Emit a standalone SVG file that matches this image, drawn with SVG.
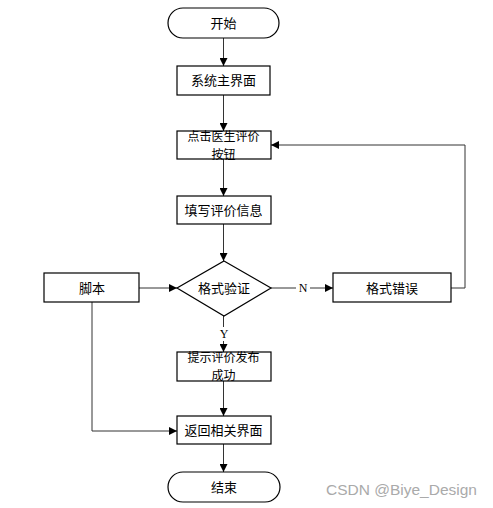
<svg xmlns="http://www.w3.org/2000/svg" width="493" height="508" viewBox="0 0 493 508">
<style>
.n{fill:#fff;stroke:#000;stroke-width:1.2}
.t{font-family:"Noto Sans CJK SC","Liberation Sans",sans-serif;font-size:13px;fill:#000;text-anchor:middle}
.s{font-size:12px}
.l{font-family:"Liberation Serif",serif;font-size:12px;fill:#000;text-anchor:middle}
.c{fill:none;stroke:#333;stroke-width:1}
</style>
<defs>
<marker id="a" viewBox="0 0 10 10" refX="10" refY="5" markerWidth="8" markerHeight="8" markerUnits="userSpaceOnUse" orient="auto">
<path d="M0,0L10,5L0,10Z" fill="#000"/>
</marker>
</defs>
<rect width="493" height="508" fill="#fff"/>
<g id="connectors">
<path class="c" d="M223.5,38V66" marker-end="url(#a)"/>
<path class="c" d="M223.5,95V131" marker-end="url(#a)"/>
<path class="c" d="M223.5,159V196" marker-end="url(#a)"/>
<path class="c" d="M223.5,224V261" marker-end="url(#a)"/>
<path class="c" d="M139,288H177" marker-end="url(#a)"/>
<path class="c" d="M271,288H333" marker-end="url(#a)"/>
<path class="c" d="M451,288H465V145H271" marker-end="url(#a)"/>
<path class="c" d="M223.5,316V352" marker-end="url(#a)"/>
<path class="c" d="M223.5,381V416" marker-end="url(#a)"/>
<path class="c" d="M92,302V431H177" marker-end="url(#a)"/>
<path class="c" d="M223.5,444V472" marker-end="url(#a)"/>
<rect x="296" y="281" width="14" height="14" fill="#fff"/>
<text class="l" x="303" y="292">N</text>
<rect x="217" y="327" width="14" height="14" fill="#fff"/>
<text class="l" x="224" y="338">Y</text>
</g>
<g id="start"><rect class="n" x="168" y="8" width="111" height="30" rx="15"/><text class="t" x="223.5" y="28">开始</text></g>
<g id="main"><rect class="n" x="177" y="66" width="93" height="29"/><text class="t" x="223.5" y="85">系统主界面</text></g>
<g id="click"><rect class="n" x="177" y="131" width="94" height="28"/><text class="t s" x="223.5" y="141">点击医生评价</text><text class="t s" x="223.5" y="159">按钮</text></g>
<g id="fill"><rect class="n" x="177" y="196" width="94" height="28"/><text class="t" x="223.5" y="215">填写评价信息</text></g>
<g id="verify"><path class="n" d="M224,261L271,288L224,316L177,288Z"/><text class="t" x="224" y="293">格式验证</text></g>
<g id="script"><rect class="n" x="44" y="273" width="95" height="29"/><text class="t" x="92" y="293">脚本</text></g>
<g id="error"><rect class="n" x="333" y="273" width="118" height="29"/><text class="t" x="392" y="293">格式错误</text></g>
<g id="success"><rect class="n" x="177" y="352" width="94" height="29"/><text class="t s" x="223.5" y="362">提示评价发布</text><text class="t s" x="223.5" y="380">成功</text></g>
<g id="back"><rect class="n" x="177" y="416" width="94" height="28"/><text class="t" x="223.5" y="435">返回相关界面</text></g>
<g id="end"><rect class="n" x="168" y="472" width="112" height="30" rx="15"/><text class="t" x="224" y="492">结束</text></g>
<text x="401.5" y="495" font-family="Liberation Sans,sans-serif" font-size="15.5" fill="#aaa" text-anchor="middle">CSDN @Biye_Design</text>
</svg>
